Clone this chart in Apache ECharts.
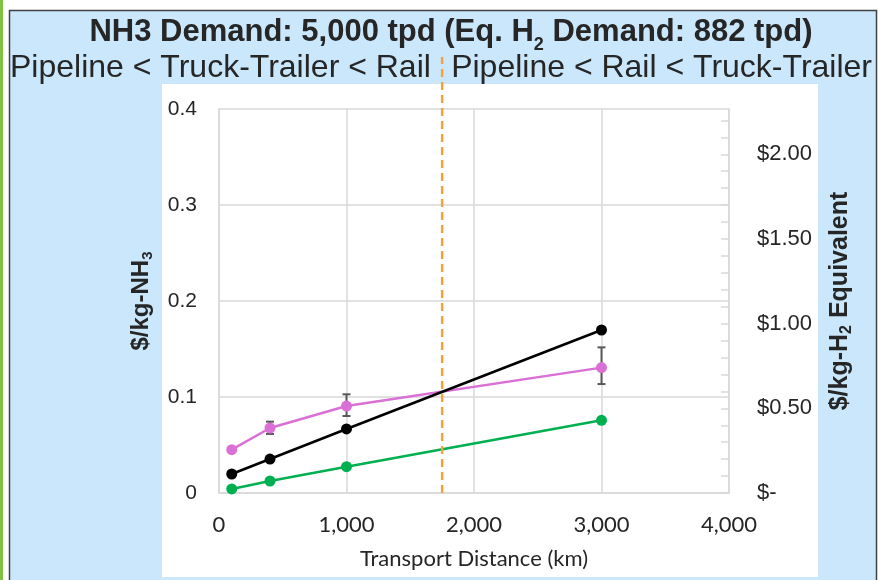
<!DOCTYPE html>
<html><head><meta charset="utf-8">
<script src="https://cdn.jsdelivr.net/npm/echarts@6/dist/echarts.min.js"></script>
<style>html,body{margin:0;padding:0;background:#fff}#c{width:879px;height:580px}</style>
</head><body><div id="c"></div>
<script>
// ---- data ----
const distancesKm = [100, 400, 1000, 3000];
const pipeline = [0.0042, 0.0125, 0.0274, 0.0757];
const truckTrailer = [0.0198, 0.0354, 0.0667, 0.1698];
const rail = [0.0451, 0.0677, 0.0906, 0.1306];
const railErrLow = [null, 0.0615, 0.0802, 0.1135];
const railErrHigh = [null, 0.0743, 0.1028, 0.1517];
const crossoverKm = 1750;
const nh3DemandTpd = 5000;
const h2DemandTpd = 882;
const xMin = 0, xMax = 4000, xStep = 1000;
const yMin = 0, yMax = 0.4, yStep = 0.1;
const rightLabelStep = 0.5, rightTickStep = 0.1;
const subtitleLeft = 'Pipeline < Truck-Trailer < Rail';
const subtitleRight = 'Pipeline < Rail < Truck-Trailer';

const ratio = nh3DemandTpd / h2DemandTpd;
const pairs = arr => distancesKm.map((d, i) => [d, arr[i]]);
const errData = distancesKm.map((d, i) => [d, railErrLow[i], railErrHigh[i]]).filter(r => r[1] !== null);

const chart = echarts.init(document.getElementById('c'));
const gridL = 219, gridR = 879 - 729, gridT = 109, gridB = 580 - 493;
const labelColor = '#262626';

chart.setOption({
  animation: false,
  backgroundColor: '#ffffff',
  graphic: [
    { type: 'rect', silent: true, z: -10, shape: { x: 0, y: 0, width: 3, height: 580 }, style: { fill: '#7FC241' } },
    { type: 'rect', silent: true, z: -10, shape: { x: 9.5, y: 10.5, width: 867, height: 580 }, style: { fill: '#CAE7FC', stroke: '#404040', lineWidth: 1.5 } },
    { type: 'rect', silent: true, z: -9, shape: { x: 162, y: 84, width: 656, height: 493 }, style: { fill: '#ffffff' } }
  ],
  title: [
    {
      left: 446, top: 5, textAlign: 'center',
      text: '{t|NH3 Demand: 5,000 tpd (Eq. H}{s|2}{t| Demand: ' + h2DemandTpd + ' tpd)}',
      textStyle: { rich: {
        t: { fontFamily: 'Liberation Sans', fontWeight: 'bold', fontSize: 31, color: '#262626' },
        s: { fontFamily: 'Liberation Sans', fontWeight: 'bold', fontSize: 18, color: '#262626', padding: [26, 0, 0, 0] }
      } }
    },
    { left: 5, top: 47, text: subtitleLeft, textStyle: { fontFamily: 'Liberation Sans', fontWeight: 'normal', fontSize: 32, color: '#262626' } },
    { right: 2, top: 47, text: subtitleRight, textStyle: { fontFamily: 'Liberation Sans', fontWeight: 'normal', fontSize: 32, color: '#262626' } }
  ],
  grid: [
    { left: gridL, right: gridR, top: gridT, bottom: gridB, containLabel: false },
    { left: gridL, right: gridR, top: 57, bottom: gridB, containLabel: false }
  ],
  xAxis: [
    {
      type: 'value', gridIndex: 0, min: xMin, max: xMax, interval: xStep,
      name: 'Transport Distance (km)', nameLocation: 'middle', nameGap: 55,
      nameTextStyle: { fontFamily: 'Lato', fontSize: 22, color: labelColor },
      axisLine: { show: true, lineStyle: { color: '#D9D9D9', width: 1.5 } },
      axisTick: { show: false },
      splitLine: { show: true, lineStyle: { color: '#D9D9D9', width: 1.5 } },
      axisLabel: { margin: 21, fontFamily: 'Lato', fontSize: 22, color: labelColor,
        formatter: v => v.toLocaleString('en-US') }
    },
    { type: 'value', gridIndex: 1, min: xMin, max: xMax, show: false }
  ],
  yAxis: [
    {
      type: 'value', gridIndex: 0, min: yMin, max: yMax, interval: yStep, position: 'left',
      name: '{a|$/kg-NH}{s|3}', nameLocation: 'middle', nameGap: 64,
      nameTextStyle: { rich: {
        a: { fontFamily: 'Liberation Sans', fontWeight: 'bold', fontSize: 24, color: labelColor },
        s: { fontFamily: 'Liberation Sans', fontWeight: 'bold', fontSize: 15, color: labelColor, padding: [13, 0, 0, 0] }
      } },
      axisLine: { show: true, lineStyle: { color: '#D9D9D9', width: 1.5 } },
      axisTick: { show: false },
      splitLine: { show: true, lineStyle: { color: '#D9D9D9', width: 1.5 } },
      axisLabel: { margin: 22, fontFamily: 'Liberation Sans', fontSize: 21, color: labelColor,
        formatter: v => v === 0 ? '0' : v.toFixed(1) }
    },
    {
      type: 'value', gridIndex: 0, min: 0, max: yMax * ratio, interval: rightTickStep, position: 'right',
      name: '{a|$/kg-H}{s|2}{a| Equivalent}', nameLocation: 'middle', nameGap: 97,
      nameTextStyle: { rich: {
        a: { fontFamily: 'Liberation Sans', fontWeight: 'bold', fontSize: 25, color: labelColor },
        s: { fontFamily: 'Liberation Sans', fontWeight: 'bold', fontSize: 16, color: labelColor, padding: [13, 0, 0, 0] }
      } },
      axisLine: { show: true, lineStyle: { color: '#D9D9D9', width: 1.5 } },
      axisTick: { show: true, inside: true, length: 8, lineStyle: { color: '#D9D9D9', width: 1.5 } },
      splitLine: { show: false },
      axisLabel: { margin: 28, fontFamily: 'Liberation Sans', fontSize: 22, color: labelColor, showMaxLabel: false,
        formatter: v => {
          const k = v / rightLabelStep;
          if (Math.abs(k - Math.round(k)) > 1e-6) return '';
          return v === 0 ? '$-' : '$' + v.toFixed(2);
        } }
    },
    { type: 'value', gridIndex: 1, min: 0, max: 1, show: false }
  ],
  series: [
    {
      type: 'custom', xAxisIndex: 0, yAxisIndex: 0, z: 1,
      data: errData,
      renderItem: (params, api) => {
        const top = api.coord([api.value(0), api.value(2)]);
        const bot = api.coord([api.value(0), api.value(1)]);
        const w = 4;
        const st = { stroke: '#595959', lineWidth: 2 };
        return { type: 'group', children: [
          { type: 'line', shape: { x1: top[0], y1: top[1], x2: bot[0], y2: bot[1] }, style: st },
          { type: 'line', shape: { x1: top[0] - w, y1: top[1], x2: top[0] + w, y2: top[1] }, style: st },
          { type: 'line', shape: { x1: bot[0] - w, y1: bot[1], x2: bot[0] + w, y2: bot[1] }, style: st }
        ] };
      }
    },
    { name: 'Rail', type: 'line', xAxisIndex: 0, yAxisIndex: 0, z: 2, data: pairs(rail),
      symbol: 'circle', symbolSize: 11, itemStyle: { color: '#DA70D6' }, lineStyle: { color: '#DA70D6', width: 2.5 } },
    { name: 'Truck-Trailer', type: 'line', xAxisIndex: 0, yAxisIndex: 0, z: 3, data: pairs(truckTrailer),
      symbol: 'circle', symbolSize: 11, itemStyle: { color: '#000000' }, lineStyle: { color: '#000000', width: 2.5 } },
    { name: 'Pipeline', type: 'line', xAxisIndex: 0, yAxisIndex: 0, z: 3, data: pairs(pipeline),
      symbol: 'circle', symbolSize: 11, itemStyle: { color: '#00B050' }, lineStyle: { color: '#00B050', width: 2.5 } },
    { name: 'Crossover', type: 'line', xAxisIndex: 1, yAxisIndex: 2, z: 4, data: [[crossoverKm, 0], [crossoverKm, 1]],
      symbol: 'none', lineStyle: { color: '#F5A23A', width: 2.5, type: [8, 5] } }
  ]
});
</script>
</body></html>
